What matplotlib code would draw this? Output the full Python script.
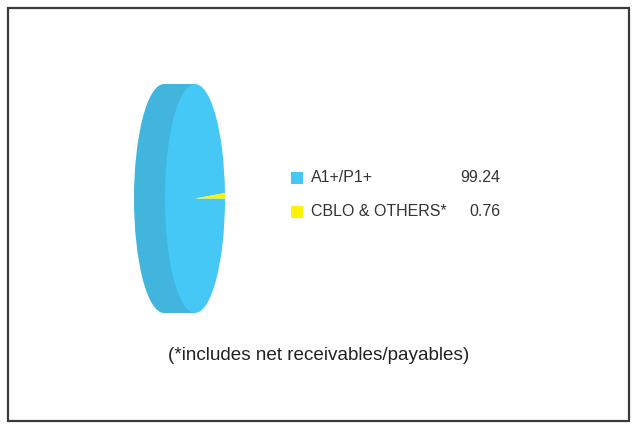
import matplotlib
matplotlib.use("Agg")
import matplotlib.pyplot as plt
from matplotlib.patches import Ellipse, Rectangle

# portfolio split by rating
labels = ["A1+/P1+", "CBLO & OTHERS*"]
values = [99.24, 0.76]
colors = ["#45C8F5", "#FFF200"]
side_color = "#42B5DF"
note = "(*includes net receivables/payables)"

W, H = 632, 426
fig = plt.figure(figsize=(W / 100, H / 100), dpi=100)
fig.patch.set_facecolor("white")

# full-figure axes in pixel units for border, pie body and text
bg = fig.add_axes([0, 0, 1, 1])
bg.set_xlim(0, W)
bg.set_ylim(H, 0)
bg.axis("off")
bg.add_patch(Rectangle((8, 8), 621, 413, fill=False, ec="#3a3a3a", lw=1.6))

# pie geometry (pixels): front face centre / radii, depth of the disc
cx, cy, rx, ry, depth = 195, 198.5, 30, 114.5, 31
bg.add_patch(Ellipse((cx - depth, cy), 2 * rx, 2 * ry, fc=side_color, ec="none"))
bg.add_patch(Rectangle((cx - depth, cy - ry), depth, 2 * ry, fc=side_color, ec="none"))

# front face as a squashed pie in its own axes
pie_ax = fig.add_axes([(cx - rx) / W, (H - cy - ry) / H, 2 * rx / W, 2 * ry / H])
pie_ax.pie(values, colors=colors, startangle=0, counterclock=False,
           wedgeprops=dict(linewidth=0))
pie_ax.set_aspect("auto")
pie_ax.set_xlim(-1, 1)
pie_ax.set_ylim(-1, 1)
pie_ax.axis("off")

# legend with values
font = ["Liberation Sans Narrow", "Liberation Sans", "DejaVu Sans"]
for i, (lab, val, col) in enumerate(zip(labels, values, colors)):
    y = 178 + i * 34
    bg.add_patch(Rectangle((291, y - 6), 12, 12, fc=col, ec="none"))
    bg.text(311, y, lab, fontsize=11.5, color="#333333", va="center",
            ha="left", family=font)
    bg.text(500, y, f"{val:.2f}", fontsize=11.5, color="#333333", va="center",
            ha="right", family=font)

bg.text(318.5, 356, note, fontsize=13.6, color="#222222", ha="center", va="center",
        family=["Liberation Sans", "DejaVu Sans"])

fig.savefig("out.png", dpi=100, facecolor="white")
